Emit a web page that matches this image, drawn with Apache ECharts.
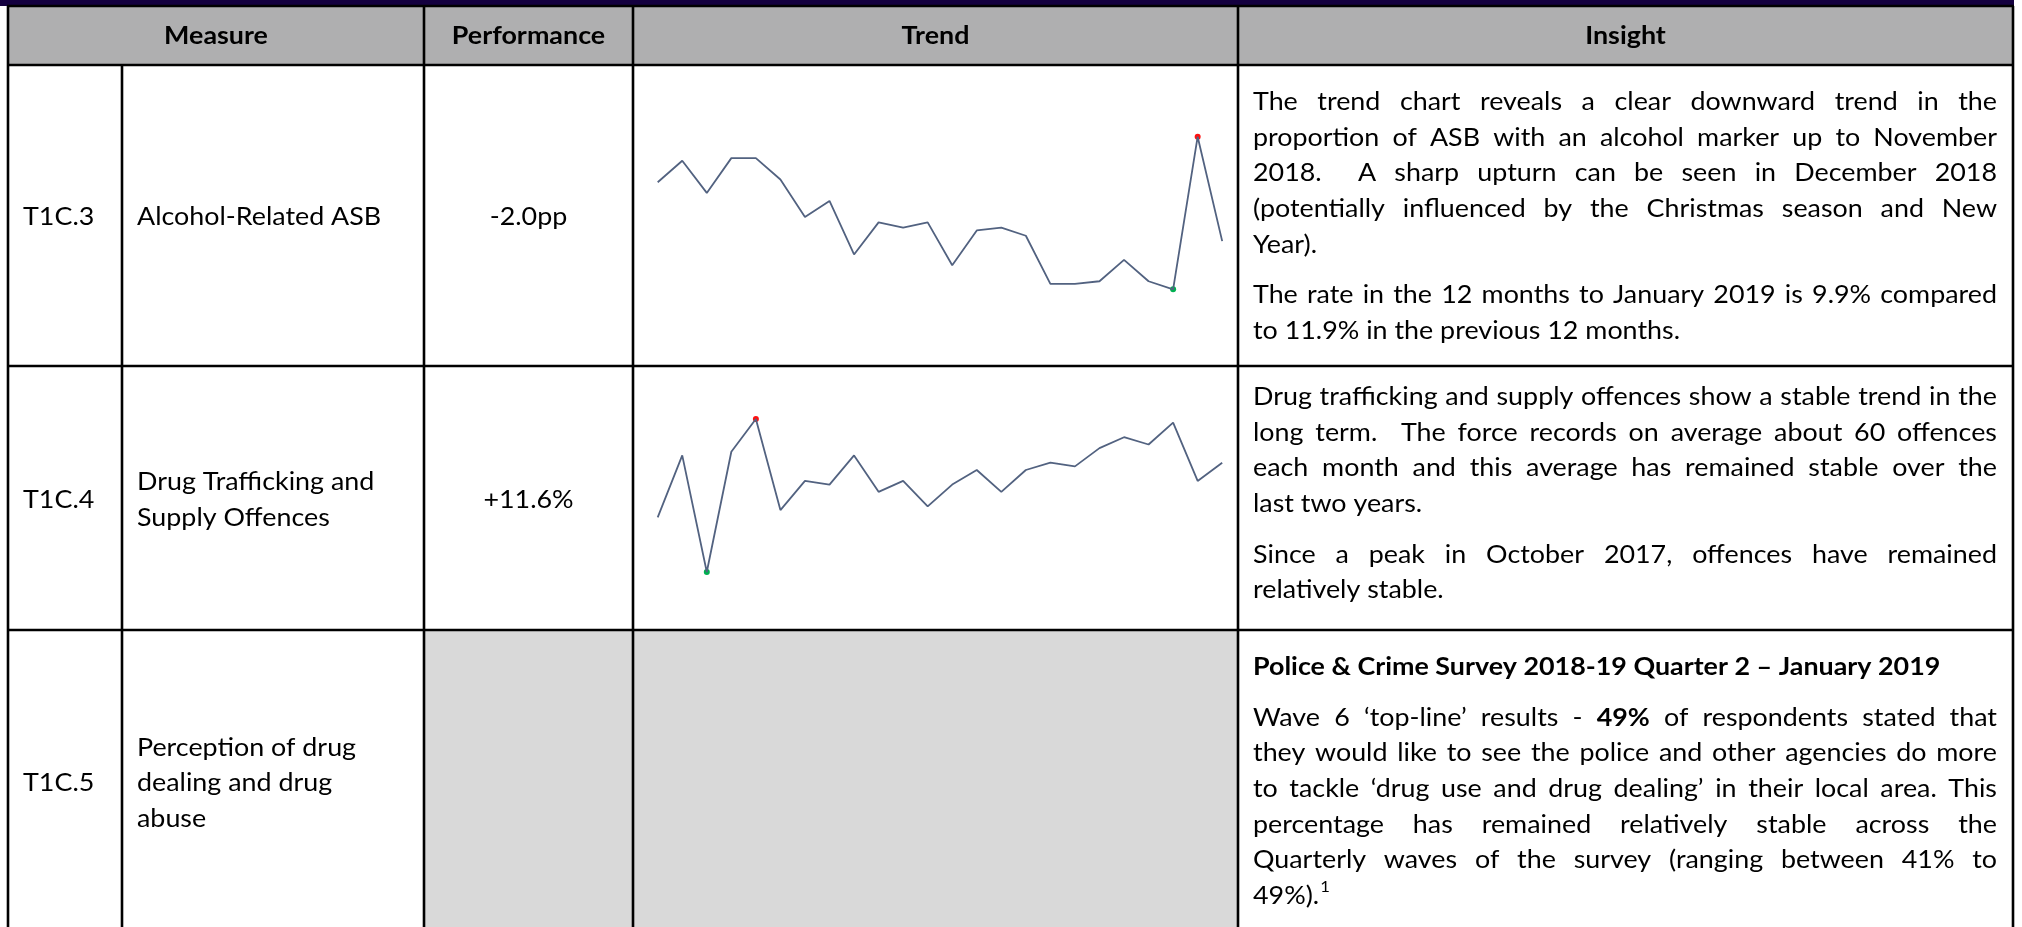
<!DOCTYPE html>
<html><head><meta charset="utf-8">
<script src="https://cdn.jsdelivr.net/npm/echarts@6/dist/echarts.min.js"></script>
<style>html,body{margin:0;padding:0;background:#fff;overflow:hidden}#c{width:2022px;height:927px}</style>
</head><body><div id="c"></div>
<script>
// ---------- DATA ----------
const months = ['Feb 17','Mar 17','Apr 17','May 17','Jun 17','Jul 17','Aug 17','Sep 17','Oct 17','Nov 17','Dec 17','Jan 18',
                'Feb 18','Mar 18','Apr 18','May 18','Jun 18','Jul 18','Aug 18','Sep 18','Oct 18','Nov 18','Dec 18','Jan 19'];
const asbAlcoholPct = [12.5,13.3,12.1,13.4,13.4,12.6,11.2,11.8,9.8,11.0,10.8,11.0,9.4,10.7,10.8,10.5,8.7,8.7,8.8,9.6,8.8,8.5,14.2,10.3];
const drugOffences = [48,65,33,66,75,50,58,57,65,55,58,51,57,61,55,61,63,62,67,70,68,74,58,63];
const headerLabels = ['Measure','Performance','Trend','Insight'];
const measureCodes = ['T1C.3','T1C.4','T1C.5'];
const measureNames = [['Alcohol-Related ASB'],['Drug Trafficking and','Supply Offences'],['Perception of drug','dealing and drug','abuse']];
const performanceValues = ['-2.0pp','+11.6%',''];
const insightParagraphs = [
  [
    ['The trend chart reveals a clear downward trend in the','proportion of ASB with an alcohol marker up to November','2018.  A sharp upturn can be seen in December 2018','(potentially influenced by the Christmas season and New','Year).'],
    ['The rate in the 12 months to January 2019 is 9.9% compared','to 11.9% in the previous 12 months.']
  ],
  [
    ['Drug trafficking and supply offences show a stable trend in the','long term.  The force records on average about 60 offences','each month and this average has remained stable over the','last two years.'],
    ['Since a peak in October 2017, offences have remained','relatively stable.']
  ],
  [
    ['#Police & Crime Survey 2018-19 Quarter 2 – January 2019'],
    ['Wave 6 ‘top-line’ results - **49%** of respondents stated that','they would like to see the police and other agencies do more','to tackle ‘drug use and drug dealing’ in their local area. This','percentage has remained relatively stable across the','Quarterly waves of the survey (ranging between 41% to','49%).^1']
  ]
];

// ---------- LAYOUT ----------
const FAMILY = 'Lato';
const colX = [8, 122, 424, 633, 1238, 2013];
const rowY = [6, 65, 366, 630, 940];
const rowMid = [216.5, 499.5, 783];
const insightStart = [102, 397, 667];
const LINE_H = 35.6, PARA_GAP = 15;
const TEXT_L = 1253, TEXT_R = 1997;

const cv = document.createElement('canvas').getContext('2d');
function rawW(t, size, bold) { cv.font = (bold ? 'bold ' : '') + size + 'px ' + FAMILY; return cv.measureText(t).width; }
const FS = 25.5;
const SX = 427 / rawW('to 11.9% in the previous 12 months.', FS, false);
function mw(t, size, bold) { return rawW(t, size, bold) * SX; }

const g = [];
function txt(x, y, t, opt) {
  opt = opt || {};
  const size = opt.size || FS;
  g.push({type:'text', x:x, y:y, scaleX:SX, scaleY:1, z:20, silent:true, style:{text:t, fontSize:size, fontFamily:FAMILY,
    fontWeight:opt.bold?'bold':'normal', fill:'#000', align:opt.align||'left', verticalAlign:'middle',
    textAlign:opt.align||'left', textVerticalAlign:'middle'}});
}
// backgrounds
g.push({type:'rect', z:0, silent:true, shape:{x:0,y:0,width:colX[5]+1,height:6}, style:{fill:'#14003f'}});
g.push({type:'rect', z:0, silent:true, shape:{x:colX[0],y:rowY[0],width:colX[5]-colX[0],height:rowY[1]-rowY[0]}, style:{fill:'#afafb0'}});
g.push({type:'rect', z:0, silent:true, shape:{x:colX[2],y:rowY[3],width:colX[4]-colX[2],height:rowY[4]-rowY[3]}, style:{fill:'#d9d9d9'}});
// borders
function ln(x1,y1,x2,y2){ g.push({type:'line', z:15, silent:true, shape:{x1:x1,y1:y1,x2:x2,y2:y2}, style:{stroke:'#000', lineWidth:2.6}}); }
rowY.slice(0,4).forEach(y => ln(colX[0]-1, y, colX[5]+1, y));
[0,2,3,4,5].forEach(i => ln(colX[i], rowY[0], colX[i], rowY[4]));
ln(colX[1], rowY[1], colX[1], rowY[4]);
// headers
txt((colX[0]+colX[2])/2, 36, headerLabels[0], {bold:true, align:'center'});
txt((colX[2]+colX[3])/2, 36, headerLabels[1], {bold:true, align:'center'});
txt((colX[3]+colX[4])/2, 36, headerLabels[2], {bold:true, align:'center'});
txt((colX[4]+colX[5])/2, 36, headerLabels[3], {bold:true, align:'center'});
// left columns
measureCodes.forEach((c, i) => {
  txt(23, rowMid[i], c);
  const names = measureNames[i];
  names.forEach((n, j) => txt(137, rowMid[i] + (j - (names.length-1)/2) * LINE_H, n));
  if (performanceValues[i]) txt((colX[2]+colX[3])/2, rowMid[i], performanceValues[i], {align:'center'});
});
// insight text (justified)
function drawLine(line, y, justify) {
  let allBold = false;
  if (line[0] === '#') { allBold = true; line = line.slice(1); }
  const toks = line.split(' ').map(t => {
    let bold = allBold, sup = '';
    if (t.startsWith('**') && t.endsWith('**') && t.length > 4) { bold = true; t = t.slice(2, -2); }
    const k = t.indexOf('^');
    if (k >= 0) { sup = t.slice(k+1); t = t.slice(0, k); }
    const w = mw(t, FS, bold) + (sup ? mw(sup, FS*0.62, false) : 0);
    return {t:t, bold:bold, sup:sup, w:w};
  });
  const sumW = toks.reduce((a, b) => a + b.w, 0);
  const gaps = toks.length - 1;
  const spaceW = mw(' ', FS, allBold);
  const gapW = (justify && gaps > 0) ? (TEXT_R - TEXT_L - sumW) / gaps : spaceW;
  let x = TEXT_L;
  toks.forEach(tk => {
    if (tk.t) txt(x, y, tk.t, {bold:tk.bold});
    if (tk.sup) txt(x + mw(tk.t, FS, tk.bold) + 1, y - FS*0.34, tk.sup, {size:FS*0.62});
    x += tk.w + gapW;
  });
}
insightParagraphs.forEach((paras, r) => {
  let y = insightStart[r];
  paras.forEach((lines, p) => {
    if (p > 0) y += PARA_GAP;
    lines.forEach((l, li) => { drawLine(l, y, li < lines.length - 1); y += LINE_H; });
  });
});

// ---------- CHART ----------
const grids = [
  {left:657.7, width:564.5, top:136.7, height:152.6},
  {left:657.7, width:564.5, top:419, height:153}
];
const seriesData = [asbAlcoholPct, drugOffences];
const chart = echarts.init(document.getElementById('c'), null, {renderer:'canvas'});
chart.setOption({
  animation:false,
  backgroundColor:'#fff',
  graphic:{elements:g},
  grid: grids,
  xAxis: grids.map((_, i) => ({type:'category', gridIndex:i, data:months, boundaryGap:false, show:false})),
  yAxis: grids.map((_, i) => ({type:'value', gridIndex:i, min:'dataMin', max:'dataMax', scale:true, show:false})),
  series: seriesData.map((d, i) => ({
    type:'line', xAxisIndex:i, yAxisIndex:i, data:d, z:5,
    showSymbol:false, symbol:'none',
    lineStyle:{color:'#526280', width:1.8},
    markPoint:{symbol:'circle', symbolSize:6, label:{show:false}, silent:true,
      data:[{type:'max', itemStyle:{color:'#ff1010'}}, {type:'min', itemStyle:{color:'#00b050'}}]}
  }))
});
</script></body></html>
